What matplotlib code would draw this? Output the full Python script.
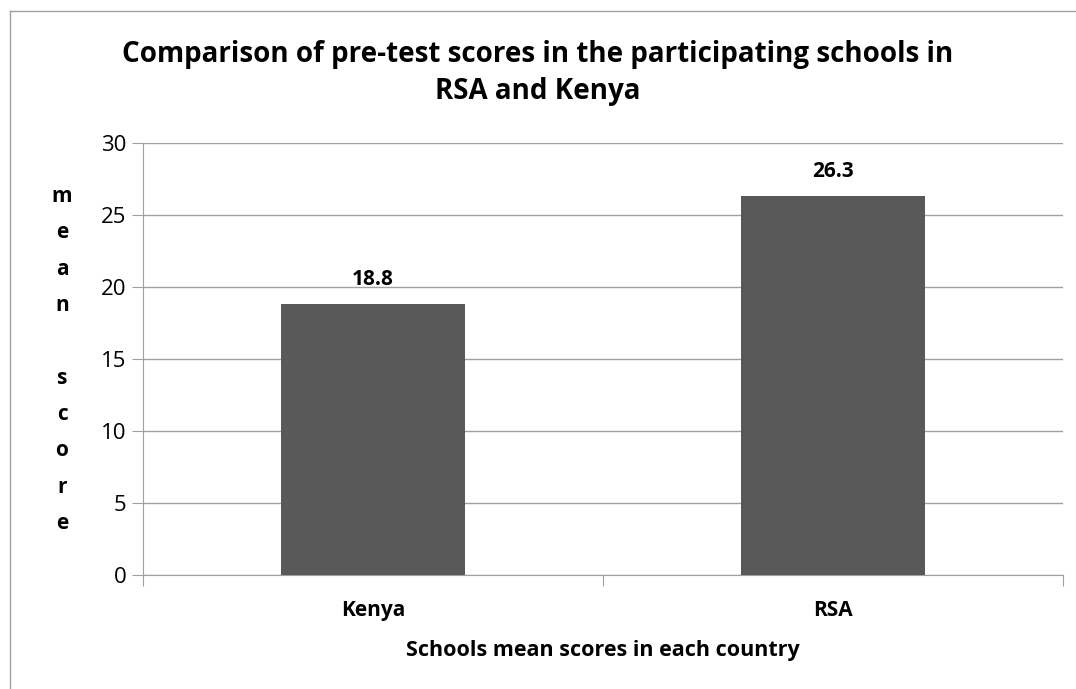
import matplotlib.pyplot as plt
from matplotlib.lines import Line2D

plt.rcParams['font.family'] = ['Open Sans', 'DejaVu Sans']

countries = ['Kenya', 'RSA']
mean_scores = [18.8, 26.3]
title = 'Comparison of pre-test scores in the participating schools in\nRSA and Kenya'
xlabel = 'Schools mean scores in each country'
ylabel_letters = ['m', 'e', 'a', 'n', '', 's', 'c', 'o', 'r', 'e']

fig = plt.figure(figsize=(10.76, 6.89), dpi=100)
ax = fig.add_axes([143 / 1076, 1 - 575 / 689, (1063 - 143) / 1076, (575 - 143) / 689])

pos = [0.5, 1.5]
ax.bar(pos, mean_scores, width=0.4, color='#595959', zorder=3)
for x, v in zip(pos, mean_scores):
    ax.text(x, v + 1.0, f'{v}', ha='center', va='bottom', fontsize=15, fontweight='bold')

ax.set_xlim(0, 2)
ax.set_ylim(0, 30)
ax.set_yticks(range(0, 31, 5))
ax.tick_params(axis='y', labelsize=16, length=8, color='#a0a0a0', pad=4)
ax.set_xticks([0, 1, 2])
ax.set_xticklabels([])
ax.set_xticks(pos, minor=True)
ax.set_xticklabels(countries, minor=True, fontsize=15, fontweight='bold')
ax.tick_params(axis='x', which='major', length=8, color='#a0a0a0')
ax.tick_params(axis='x', which='minor', length=0, pad=18)
ax.grid(axis='y', color='#a0a0a0', linewidth=1, zorder=0)
for s in ['top', 'right']:
    ax.spines[s].set_visible(False)
for s in ['left', 'bottom']:
    ax.spines[s].set_color('#a0a0a0')

ax.set_xlabel(xlabel, fontsize=15.5, fontweight='bold', labelpad=14)
fig.text(62 / 1076, 1 - 360 / 689, '\n'.join(ylabel_letters),
         ha='center', va='center', fontsize=15, fontweight='bold', linespacing=1.96)
fig.text(0.5, 1 - 73 / 689, title, ha='center', va='center', fontsize=20, fontweight='bold',
         linespacing=1.35)

# chart frame (left and top edges visible)
fig.add_artist(Line2D([10 / 1076, 10 / 1076], [0, 1 - 11 / 689], transform=fig.transFigure,
                      color='#a0a0a0', linewidth=1))
fig.add_artist(Line2D([10 / 1076, 1], [1 - 11 / 689, 1 - 11 / 689], transform=fig.transFigure,
                      color='#a0a0a0', linewidth=1))

fig.savefig('out.png', dpi=100)
